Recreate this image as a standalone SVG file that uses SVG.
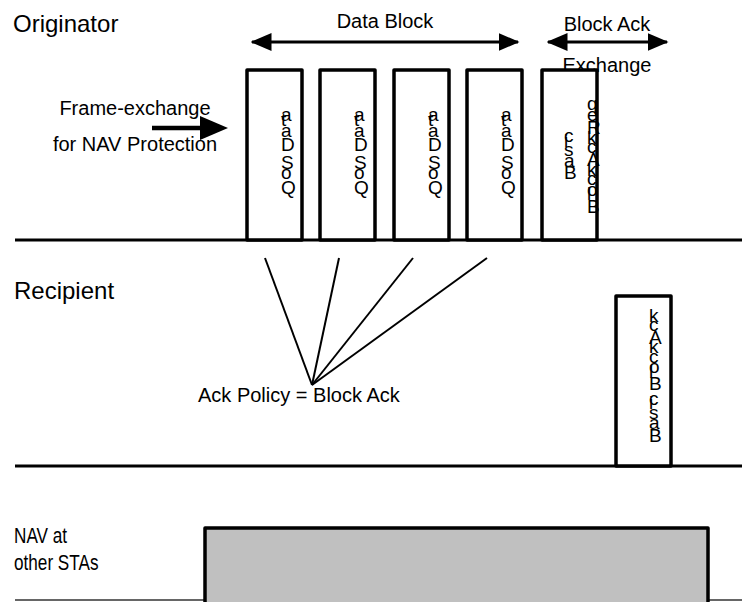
<svg xmlns="http://www.w3.org/2000/svg" width="742" height="602" viewBox="0 0 742 602">
<style>
text{font-family:"Liberation Sans",Arial,sans-serif;fill:#000}
.lbl{font-size:20px}
.big{font-size:24px}
.vt{font-size:19px}
.box{fill:#fff;stroke:#000;stroke-width:3.5;stroke-linejoin:round}
.ln{stroke:#000;stroke-width:3;fill:none}
.fan{stroke:#000;stroke-width:2;fill:none}
</style>
<defs>
<marker id="ah" markerWidth="7" markerHeight="6" refX="6.5" refY="3" orient="auto-start-reverse" markerUnits="strokeWidth">
<path d="M0,0 L7,3 L0,6 Z" fill="#000"/>
</marker>
</defs>
<rect width="742" height="602" fill="#fff"/>

<g id="timelines">
<line class="ln" x1="15" y1="240" x2="742" y2="240"/>
<line class="ln" x1="15" y1="466" x2="742" y2="466"/>
<line x1="15" y1="600" x2="742" y2="600" stroke="#666" stroke-width="2"/>
</g>

<g id="labels">
<text class="big" x="13" y="32">Originator</text>
<text class="big" x="14" y="299">Recipient</text>
<text transform="translate(14,0) scale(0.78,1)" x="0" y="543" style="font-size:22px">NAV at</text>
<text transform="translate(14,0) scale(0.78,1)" x="0" y="570" style="font-size:22px">other STAs</text>
<text class="lbl" x="135" y="115" text-anchor="middle">Frame-exchange</text>
<text class="lbl" x="135" y="151" text-anchor="middle">for NAV Protection</text>
<text class="lbl" x="385" y="28" text-anchor="middle">Data Block</text>
<text class="lbl" x="607" y="31" text-anchor="middle">Block Ack</text>
<text class="lbl" x="607" y="72" text-anchor="middle">Exchange</text>
<text class="lbl" x="198" y="402">Ack Policy = Block Ack</text>
</g>

<g id="nav">
<rect x="205" y="528" width="503" height="80" fill="#c0c0c0" stroke="#000" stroke-width="3.5" stroke-linejoin="round"/>
</g>

<g id="qos1">
<rect class="box" x="247" y="70" width="55" height="170"/>
<text class="vt" x="281 281 281 281 281 281 281 281" y="194 179.2 168.7 156 150.7 137 126.4 121.1">QoS Data</text>
</g>
<g id="qos2">
<rect class="box" x="320" y="70" width="55" height="170"/>
<text class="vt" x="354 354 354 354 354 354 354 354" y="194 179.2 168.7 156 150.7 137 126.4 121.1">QoS Data</text>
</g>
<g id="qos3">
<rect class="box" x="394" y="70" width="55" height="170"/>
<text class="vt" x="428 428 428 428 428 428 428 428" y="194 179.2 168.7 156 150.7 137 126.4 121.1">QoS Data</text>
</g>
<g id="qos4">
<rect class="box" x="467" y="70" width="55" height="170"/>
<text class="vt" x="501 501 501 501 501 501 501 501" y="194 179.2 168.7 156 150.7 137 126.4 121.1">QoS Data</text>
</g>
<g id="bar">
<rect class="box" x="542" y="70" width="55" height="170"/>
<text class="vt" x="564 564 564 564 564" y="179.2 166.5 156 146.5 142.3">Basic</text>
<text class="vt" x="587 587 587 587 587 587 587 587 587 587 587" y="212.5 199.8 195.6 185.1 175.6 166.1 153.4 143.9 134.4 120.7 110.1">BlockAckReq</text>
</g>
<g id="ba">
<rect class="box" x="616" y="296" width="55" height="170"/>
<text class="vt" x="649 649 649 649 649 649 649 649 649 649 649 649 649 649" y="442 429.3 418.8 409.3 405.1 395.6 390.3 377.6 373.4 362.8 353.3 343.8 331.2 321.7">Basic BlockAck</text>
</g>

<g id="connectors">
<line x1="252" y1="42" x2="518" y2="42" stroke="#000" stroke-width="3" marker-start="url(#ah)" marker-end="url(#ah)"/>
<line x1="548" y1="42" x2="667" y2="42" stroke="#000" stroke-width="3" marker-start="url(#ah)" marker-end="url(#ah)"/>
<line x1="152" y1="128" x2="202" y2="128" stroke="#000" stroke-width="4.5"/>
<path d="M200,116 L228,128 L200,140 Z" fill="#000"/>
<line class="fan" x1="312" y1="385" x2="265" y2="258"/>
<line class="fan" x1="312" y1="385" x2="339" y2="258"/>
<line class="fan" x1="312" y1="385" x2="413" y2="258"/>
<line class="fan" x1="312" y1="385" x2="487" y2="258"/>
</g>
</svg>
